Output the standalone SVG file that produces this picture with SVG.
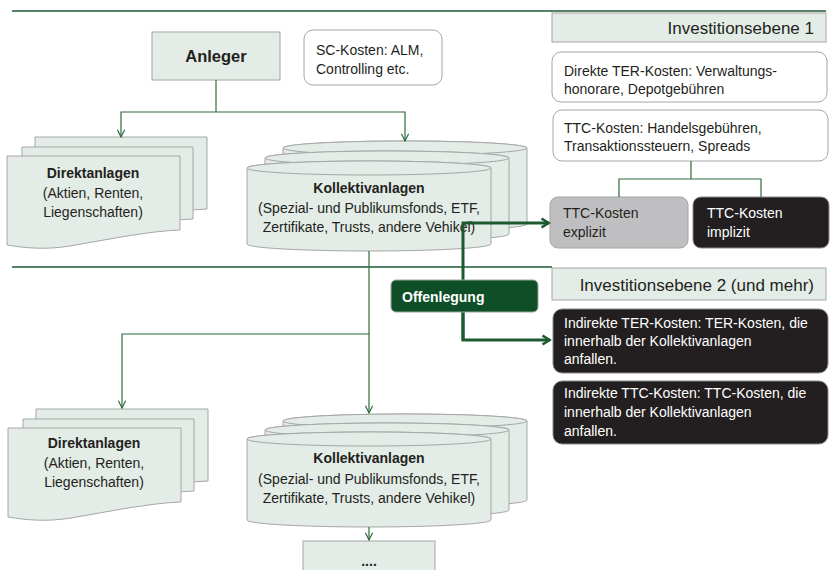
<svg xmlns="http://www.w3.org/2000/svg" width="836" height="570" viewBox="0 0 836 570">
<defs>
<style>
text{font-family:"Liberation Sans",Arial,sans-serif;fill:#231f20}
.sh{fill:#e3ece6;stroke:#a6a6a6;stroke-width:1}
.wb{fill:#fff;stroke:#a6a6a6;stroke-width:1}
.bk{fill:#231f20;stroke:#8a8a8a;stroke-width:1}
.gr{fill:#bfbfc1;stroke:#a6a6a6;stroke-width:1}
.t14{font-size:14px}
.t135{font-size:13.5px}
.b{font-weight:bold}
.w{fill:#fff}
.mid{text-anchor:middle}
.end{text-anchor:end}
.div{stroke:#1e5a33;stroke-width:1.3;fill:none}
.thin{stroke:#2d6b3c;stroke-width:1.2;fill:none}
.thick{stroke:#1d5a30;stroke-width:3;fill:none}
</style>
<marker id="ah" viewBox="0 0 10 10" refX="9" refY="5" markerWidth="9" markerHeight="9" orient="auto" markerUnits="userSpaceOnUse"><path d="M1,1 L9,5 L1,9" fill="none" stroke="#2d6b3c" stroke-width="1.3"/></marker>
<marker id="ahT" viewBox="0 0 12 12" refX="10.5" refY="6" markerWidth="12" markerHeight="12" orient="auto" markerUnits="userSpaceOnUse"><path d="M3,1.5 L10,6 L3,10.5" fill="none" stroke="#1d5a30" stroke-width="2.6"/></marker>
</defs>

<!-- divider lines -->
<line class="div" x1="12" y1="11" x2="826" y2="11"/>
<line class="div" x1="12" y1="267" x2="552" y2="267"/>

<g id="ebene1">
<rect class="sh" x="552" y="13" width="274" height="29"/>
<text class="end" x="814" y="34" font-size="17">Investitionsebene 1</text>
</g>

<g id="anleger">
<rect class="sh" x="152" y="32" width="128" height="48"/>
<text class="mid b" x="216" y="62" font-size="16.5">Anleger</text>
</g>

<g id="sc-kosten">
<rect class="wb" x="304" y="30" width="138" height="55" rx="9"/>
<text class="t14" x="316" y="55">SC-Kosten: ALM,</text>
<text class="t14" x="316" y="74">Controlling etc.</text>
</g>

<g id="direkte-ter">
<rect class="wb" x="552" y="52" width="275" height="50" rx="9"/>
<text class="t14" x="564" y="76">Direkte TER-Kosten: Verwaltungs-</text>
<text class="t14" x="564" y="94">honorare, Depotgebühren</text>
</g>

<g id="ttc-kosten">
<rect class="wb" x="553" y="110" width="275" height="51" rx="9"/>
<text class="t14" x="564" y="133">TTC-Kosten: Handelsgebühren,</text>
<text class="t14" x="564" y="151">Transaktionssteuern, Spreads</text>
</g>

<g id="ttc-explizit">
<rect class="gr" x="550" y="197" width="138" height="51" rx="8"/>
<text class="t14" x="563" y="218">TTC-Kosten</text>
<text class="t14" x="563" y="237">explizit</text>
</g>

<g id="ttc-implizit">
<rect class="bk" x="693" y="197" width="136" height="51" rx="8"/>
<text class="t14 w" x="707" y="218">TTC-Kosten</text>
<text class="t14 w" x="707" y="237">implizit</text>
</g>

<g id="direktanlagen-1">
<path class="sh" d="M35,137 H207 V209 C177,210 137,218 97,225 C72,229 52,227 35,224 Z"/>
<path class="sh" d="M22,147 H193 V219 C163,220 123,228 83,235 C58,239 38,237 22,234 Z"/>
<path class="sh" d="M7,156 H180 V230 C150,231 110,239 70,246 C45,250 25,248 7,245 Z"/>
<text class="mid b t14" x="93" y="178">Direktanlagen</text>
<text class="mid t14" x="93" y="198">(Aktien, Renten,</text>
<text class="mid t14" x="93" y="217">Liegenschaften)</text>
</g>

<g id="kollektivanlagen-1">
<path class="sh" d="M283,148 V224 A122,7 0 0 0 527,224 V148 A122,7 0 0 0 283,148 Z"/>
<ellipse class="sh" cx="405" cy="148" rx="122" ry="7"/>
<path class="sh" d="M265,158 V234 A122,7 0 0 0 509,234 V158 A122,7 0 0 0 265,158 Z"/>
<ellipse class="sh" cx="387" cy="158" rx="122" ry="7"/>
<path class="sh" d="M247,168 V244 A122,7 0 0 0 491,244 V168 A122,7 0 0 0 247,168 Z"/>
<ellipse class="sh" cx="369" cy="168" rx="122" ry="7"/>
<text class="mid b t14" x="369" y="193">Kollektivanlagen</text>
<text class="mid t14" x="369" y="213">(Spezial- und Publikumsfonds, ETF,</text>
<text class="mid t14" x="369" y="232">Zertifikate, Trusts, andere Vehikel)</text>
</g>

<g id="ebene2">
<rect class="sh" x="552" y="268" width="274" height="32"/>
<text class="end" x="814" y="291" font-size="17">Investitionsebene 2 (und mehr)</text>
</g>

<g id="indirekte-ter">
<rect class="bk" x="553" y="309" width="275" height="64" rx="9"/>
<text class="t14 w" x="564" y="328">Indirekte TER-Kosten: TER-Kosten, die</text>
<text class="t14 w" x="564" y="346">innerhalb der Kollektivanlagen</text>
<text class="t14 w" x="564" y="364">anfallen.</text>
</g>

<g id="indirekte-ttc">
<rect class="bk" x="553" y="381" width="275" height="63" rx="9"/>
<text class="t14 w" x="564" y="398">Indirekte TTC-Kosten: TTC-Kosten, die</text>
<text class="t14 w" x="564" y="417">innerhalb der Kollektivanlagen</text>
<text class="t14 w" x="564" y="436">anfallen.</text>
</g>

<g id="direktanlagen-2" transform="translate(1,272)">
<path class="sh" d="M35,137 H207 V209 C177,210 137,218 97,225 C72,229 52,227 35,224 Z"/>
<path class="sh" d="M22,147 H193 V219 C163,220 123,228 83,235 C58,239 38,237 22,234 Z"/>
<path class="sh" d="M7,156 H180 V230 C150,231 110,239 70,246 C45,250 25,248 7,245 Z"/>
<text class="mid b t14" x="93" y="176">Direktanlagen</text>
<text class="mid t14" x="93" y="196">(Aktien, Renten,</text>
<text class="mid t14" x="93" y="215">Liegenschaften)</text>
</g>

<g id="kollektivanlagen-2">
<path class="sh" d="M283,421 V500 A122,7 0 0 0 527,500 V421 A122,7 0 0 0 283,421 Z"/>
<ellipse class="sh" cx="405" cy="421" rx="122" ry="7"/>
<path class="sh" d="M265,430 V510 A122,7 0 0 0 509,510 V430 A122,7 0 0 0 265,430 Z"/>
<ellipse class="sh" cx="387" cy="430" rx="122" ry="7"/>
<path class="sh" d="M247,439 V520 A122,7 0 0 0 491,520 V439 A122,7 0 0 0 247,439 Z"/>
<ellipse class="sh" cx="369" cy="439" rx="122" ry="7"/>
<text class="mid b t14" x="369" y="463">Kollektivanlagen</text>
<text class="mid t14" x="369" y="484">(Spezial- und Publikumsfonds, ETF,</text>
<text class="mid t14" x="369" y="503">Zertifikate, Trusts, andere Vehikel)</text>
</g>

<g id="weitere">
<rect class="sh" x="303" y="541" width="132" height="40"/>
<text class="mid b t14" x="369" y="566">....</text>
</g>

<g id="connectors">
<path class="thin" d="M216,80 V112"/>
<path class="thin" d="M216,112 H121 V137" marker-end="url(#ah)"/>
<path class="thin" d="M216,112 H405 V141" marker-end="url(#ah)"/>
<path class="thin" d="M691,161 V179 M619,197 V179 H761 V197"/>
<path class="thin" d="M369,251 V413" marker-end="url(#ah)"/>
<path class="thin" d="M369,334 H122 V408" marker-end="url(#ah)"/>
<path class="thin" d="M369,527 V540" marker-end="url(#ah)"/>
<path class="thick" d="M463,340 V223 H549" marker-end="url(#ahT)"/>
<path class="thick" d="M463,300 V340 H550" marker-end="url(#ahT)"/>
</g>

<g id="offenlegung">
<rect x="391" y="280" width="147" height="32" rx="5" fill="#0e4f27" stroke="#9aa89e" stroke-width="1"/>
<text class="b w" x="402" y="302" font-size="14">Offenlegung</text>
</g>
</svg>
